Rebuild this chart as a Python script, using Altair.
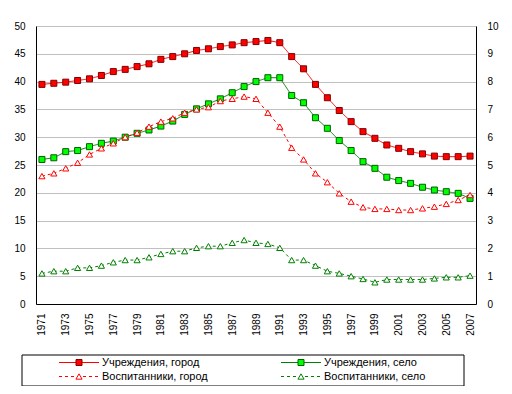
import altair as alt
import pandas as pd

years = list(range(1971, 2008))

uchr_gorod = [39.5, 39.7, 39.9, 40.2, 40.5, 41.1, 41.8, 42.2, 42.7, 43.2,
              44.0, 44.5, 45.0, 45.6, 45.9, 46.3, 46.6, 47.0, 47.2, 47.4,
              47.0, 44.5, 42.3, 39.5, 37.1, 34.8, 32.8, 31.0, 29.8, 28.6,
              28.0, 27.4, 27.0, 26.6, 26.5, 26.5, 26.6]
uchr_selo = [26.0, 26.3, 27.4, 27.6, 28.3, 28.9, 29.3, 30.0, 30.7, 31.3,
             32.0, 32.9, 34.1, 35.1, 36.0, 36.9, 38.0, 39.1, 40.0, 40.7,
             40.7, 37.5, 36.2, 33.5, 31.6, 29.4, 27.6, 25.6, 24.4, 22.8,
             22.2, 21.7, 21.0, 20.5, 20.2, 19.9, 19.0]
vosp_gorod = [23.0, 23.5, 24.4, 25.4, 26.9, 28.0, 28.9, 30.0, 30.8, 31.9,
              32.8, 33.4, 34.4, 35.0, 35.4, 36.5, 36.9, 37.3, 36.9, 34.4,
              31.9, 28.1, 26.0, 23.5, 21.9, 19.9, 18.4, 17.4, 17.1, 17.1,
              16.9, 16.9, 17.2, 17.5, 18.0, 18.7, 19.6]
vosp_selo = [5.5, 5.9, 5.9, 6.5, 6.5, 6.9, 7.5, 7.9, 7.9, 8.4,
             9.0, 9.5, 9.5, 10.1, 10.4, 10.4, 11.0, 11.5, 11.0, 10.8,
             10.1, 7.9, 7.9, 6.9, 5.9, 5.5, 5.0, 4.5, 3.9, 4.4,
             4.4, 4.4, 4.4, 4.6, 4.8, 4.8, 5.1]

series_names = ["Учреждения, город", "Учреждения, село",
                "Воспитанники, город", "Воспитанники, село"]
series_values = [uchr_gorod, uchr_selo, vosp_gorod, vosp_selo]

left_ticks = list(range(0, 55, 5))
right_ticks = list(range(0, 11))
x_label_years = list(range(1971, 2008, 2))

# styles
styles = [
    dict(line="#FF0000", dash=[1, 0], shape="square", fill="#FF0000", stroke="#800000", size=36),
    dict(line="#008000", dash=[1, 0], shape="square", fill="#00FF00", stroke="#006000", size=36),
    dict(line="#FF0000", dash=[3, 3], shape="triangle-up", fill="#FFFFFF", stroke="#FF0000", size=38),
    dict(line="#008000", dash=[3, 3], shape="triangle-up", fill="#FFFFFF", stroke="#008000", size=38),
]

FONT = "Liberation Sans"

x_enc = alt.X("year:O",
              scale=alt.Scale(paddingInner=0, paddingOuter=0),
              axis=alt.Axis(values=x_label_years, labelAngle=270, title=None,
                            ticks=False, tickSize=0, labelPadding=9,
                            domainColor="#000000", grid=False))
y_enc = alt.Y("value:Q",
              scale=alt.Scale(domain=[0, 50]),
              axis=alt.Axis(values=left_ticks, title=None, ticks=False, tickSize=0,
                            labelPadding=11, domainColor="#000000",
                            grid=True, gridColor="#C0C0C0"))

layers = []
for name, vals, st in zip(series_names, series_values, styles):
    df = pd.DataFrame({"year": years, "value": vals})
    base = alt.Chart(df)
    layers.append(base.mark_line(color=st["line"], strokeWidth=1,
                                 strokeDash=st["dash"]).encode(x=x_enc, y=y_enc))
    layers.append(base.mark_point(shape=st["shape"], filled=True, fill=st["fill"],
                                  stroke=st["stroke"], strokeWidth=1, size=st["size"],
                                  opacity=1).encode(x=x_enc, y=y_enc))

# legend (drawn manually, positions relative to plot origin)
one = alt.Data(values=[{"k": 0}])
layers.append(alt.Chart(one).mark_rect(fill="#FFFFFF", stroke="#000000", strokeWidth=1).encode(
    x=alt.value(-14), x2=alt.value(428), y=alt.value(329), y2=alt.value(360)))
col_x = [23, 245]
row_y = [336.5, 350.5]
for i, (name, st) in enumerate(zip(series_names, styles)):
    cx = col_x[i % 2]
    ry = row_y[i // 2]
    layers.append(alt.Chart(one).mark_rule(color=st["line"], strokeWidth=1,
                                           strokeDash=st["dash"]).encode(
        x=alt.value(cx), x2=alt.value(cx + 40), y=alt.value(ry)))
    layers.append(alt.Chart(one).mark_point(shape=st["shape"], filled=True, fill=st["fill"],
                                            stroke=st["stroke"], strokeWidth=1,
                                            size=st["size"], opacity=1).encode(
        x=alt.value(cx + 20), y=alt.value(ry)))
    layers.append(alt.Chart(one).mark_text(text=name, align="left", baseline="middle",
                                           font=FONT, fontSize=11, color="#000000").encode(
        x=alt.value(cx + 43), y=alt.value(ry)))

main = alt.layer(*layers)

right = alt.Chart(pd.DataFrame({"v": right_ticks})).mark_point(opacity=0).encode(
    y=alt.Y("v:Q", scale=alt.Scale(domain=[0, 10]),
            axis=alt.Axis(orient="right", values=right_ticks, title=None, ticks=False,
                          tickSize=0, labelPadding=11, domainColor="#000000", grid=False)))

chart = alt.layer(main, right).resolve_scale(y="independent").properties(
    width=440, height=278,
    autosize=alt.AutoSizeParams(type="none"),
    padding={"left": 28, "top": 18, "right": 28, "bottom": 82},
).configure_view(stroke="#808080", strokeWidth=1).configure_axis(
    labelFont=FONT, labelFontSize=11, labelColor="#000000", domainWidth=1
).configure(background="#FFFFFF")

chart.save("out.html", embed_options={"renderer": "svg", "actions": False})
